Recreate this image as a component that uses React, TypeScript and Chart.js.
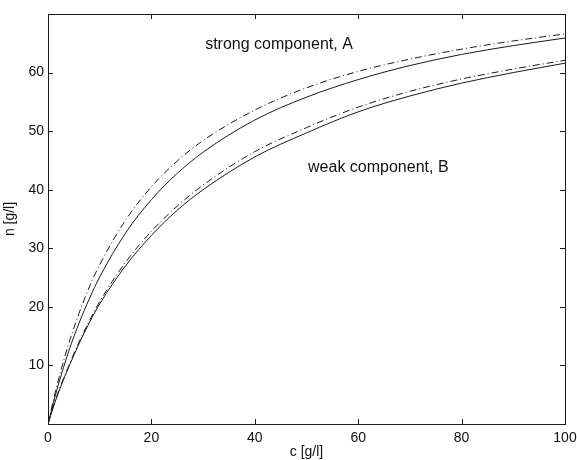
import React, { useEffect, useRef } from "react";
import { Chart, registerables } from "chart.js";

Chart.register(...registerables);

const concentrations = [0, 1, 2, 4, 6, 8, 10, 15, 20, 25, 30, 40, 50, 60, 70, 80, 90, 100];
const strongSolid = [0, 3.5, 6.7, 12.4, 17.2, 21.4, 25.1, 32.6, 38.3, 42.8, 46.4, 51.9, 55.8, 58.8, 61.2, 63.1, 64.6, 65.9];
const strongDashDot = [0, 3.9, 7.5, 13.7, 18.9, 23.4, 27.2, 34.8, 40.5, 44.9, 48.4, 53.6, 57.4, 60.2, 62.3, 64.0, 65.4, 66.6];
const weakSolid = [0, 2.8, 5.3, 9.7, 13.7, 17.3, 20.5, 27.0, 32.2, 36.5, 40.0, 45.6, 49.7, 53.3, 56.0, 58.2, 60.0, 61.6];
const weakDashDot = [0, 2.9, 5.5, 9.9, 14.0, 17.6, 20.9, 27.6, 32.9, 37.2, 40.8, 46.5, 50.6, 54.1, 56.8, 58.9, 60.6, 62.1];

const xTicks = [0, 20, 40, 60, 80, 100];
const yTicks = [10, 20, 30, 40, 50, 60];
const yLabelled = ["10", "20", "30", "40", "50", "60"];

const annotations = [
  { text: "strong component, A", x: 30.4, y: 64.7 },
  { text: "weak component, B", x: 50.3, y: 43.7 },
];

const FONT = "'Liberation Sans', Arial, Helvetica, sans-serif";
const INK = "#1a1a1a";

const pts = (ys: number[]) => concentrations.map((c, i) => ({ x: c, y: ys[i] }));

export default function App() {
  const ref = useRef<HTMLCanvasElement | null>(null);

  useEffect(() => {
    if (!ref.current) return;
    const framePlugin = {
      id: "frame",
      afterDraw(chart: any) {
        const { ctx, chartArea: a, scales } = chart;
        const xs = scales.x;
        const ys = scales.y;
        ctx.save();
        ctx.strokeStyle = INK;
        ctx.lineWidth = 1;
        ctx.strokeRect(Math.round(a.left) + 0.5, Math.round(a.top) + 0.5, Math.round(a.right - a.left), Math.round(a.bottom - a.top));
        const tl = 5;
        ctx.beginPath();
        xTicks.forEach((v) => {
          const px = Math.round(xs.getPixelForValue(v)) + 0.5;
          ctx.moveTo(px, a.bottom);
          ctx.lineTo(px, a.bottom - tl);
          ctx.moveTo(px, a.top);
          ctx.lineTo(px, a.top + tl);
        });
        yTicks.forEach((v) => {
          const py = Math.round(ys.getPixelForValue(v)) + 0.5;
          ctx.moveTo(a.left, py);
          ctx.lineTo(a.left + tl, py);
          ctx.moveTo(a.right, py);
          ctx.lineTo(a.right - tl, py);
        });
        ctx.stroke();
        ctx.fillStyle = "#111";
        ctx.font = `16px ${FONT}`;
        ctx.textAlign = "left";
        ctx.textBaseline = "middle";
        annotations.forEach((an) => {
          ctx.fillText(an.text, xs.getPixelForValue(an.x), ys.getPixelForValue(an.y));
        });
        ctx.restore();
      },
    };

    const chart = new Chart(ref.current, {
      type: "line",
      data: {
        datasets: [
          { data: pts(strongSolid), borderColor: INK, borderWidth: 1 },
          { data: pts(strongDashDot), borderColor: INK, borderWidth: 1, borderDash: [7, 3, 1, 3] },
          { data: pts(weakSolid), borderColor: INK, borderWidth: 1 },
          { data: pts(weakDashDot), borderColor: INK, borderWidth: 1, borderDash: [7, 3, 1, 3] },
        ],
      },
      options: {
        animation: false,
        responsive: false,
        maintainAspectRatio: false,
        events: [],
        layout: { padding: { top: 14, right: 12, left: 0, bottom: 0 } },
        elements: {
          point: { radius: 0 },
          line: { cubicInterpolationMode: "monotone", fill: false },
        },
        plugins: { legend: { display: false }, tooltip: { enabled: false } },
        scales: {
          x: {
            type: "linear",
            min: 0,
            max: 100,
            afterFit: (s: any) => { s.height = 36; s.paddingRight = 0; },
            afterBuildTicks: (s: any) => { s.ticks = xTicks.map((v) => ({ value: v })); },
            grid: { display: false, drawTicks: false },
            border: { display: false },
            ticks: { color: "#111", padding: 6, maxRotation: 0, font: { family: FONT, size: 14 } },
            title: { display: true, text: "c [g/l]", color: "#111", padding: { top: 0, bottom: -1 }, font: { family: FONT, size: 14 } },
          },
          y: {
            type: "linear",
            min: 0,
            max: 70,
            afterFit: (s: any) => { s.width = 48; },
            afterBuildTicks: (s: any) => { s.ticks = yTicks.map((v) => ({ value: v })); },
            grid: { display: false, drawTicks: false },
            border: { display: false },
            ticks: {
              color: "#111",
              padding: 4,
              font: { family: FONT, size: 14 },
              callback: (v: any) => (yLabelled.includes(String(v)) ? String(v) : ""),
            },
            title: { display: true, text: "n [g/l]", color: "#111", padding: { top: 2, bottom: 0 }, font: { family: FONT, size: 14 } },
          },
        },
      },
      plugins: [framePlugin],
    });
    return () => chart.destroy();
  }, []);

  return (
    <div style={{ position: "absolute", left: 0, top: 0, width: 577, height: 460, background: "#fff" }}>
      <canvas ref={ref} width={577} height={460} style={{ display: "block" }} />
    </div>
  );
}
